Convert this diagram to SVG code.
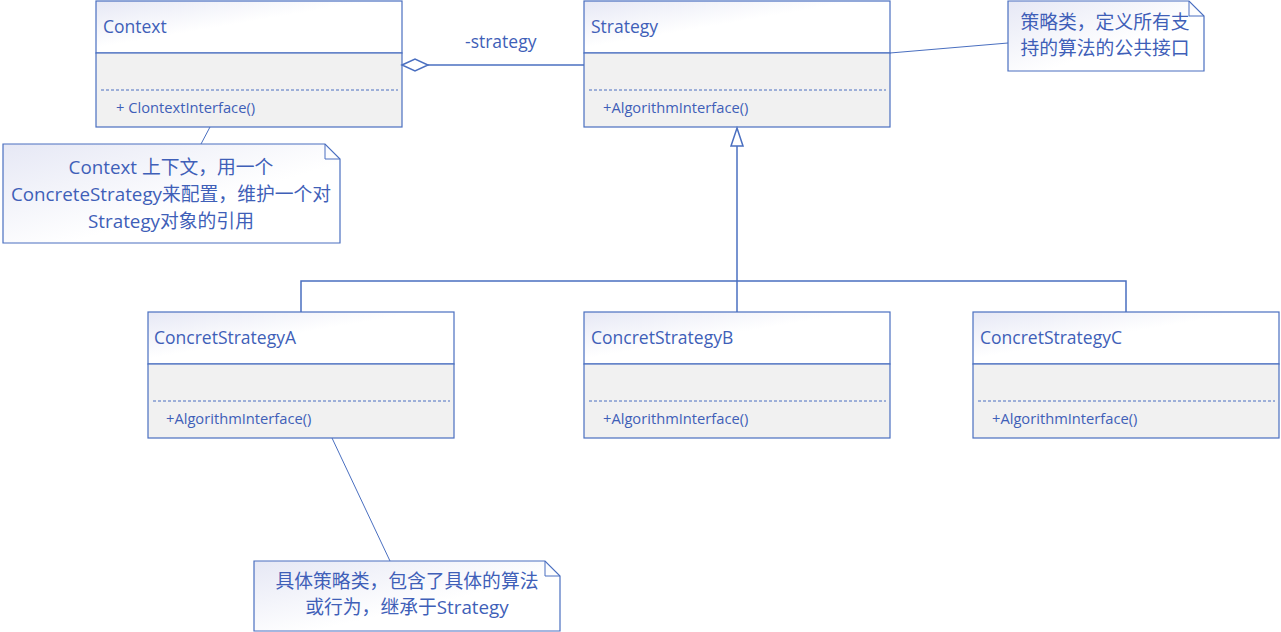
<svg xmlns="http://www.w3.org/2000/svg" width="1281" height="632" viewBox="0 0 1281 632">
<defs>
<linearGradient id="hg" x1="0" y1="0" x2="1" y2="1">
<stop offset="0" stop-color="#e6e8f5"/>
<stop offset="0.45" stop-color="#ffffff"/>
<stop offset="1" stop-color="#ffffff"/>
</linearGradient>
<linearGradient id="ng" x1="0" y1="0" x2="1" y2="1">
<stop offset="0" stop-color="#e6e8f5"/>
<stop offset="0.6" stop-color="#ffffff"/>
<stop offset="1" stop-color="#ffffff"/>
</linearGradient>
</defs>
<style>
.hdr{fill:url(#hg);stroke:#4a6fc0;stroke-width:1.2}
.bdy{fill:#f1f1f1;stroke:#4a6fc0;stroke-width:1.2}
.dash{stroke:#4a6fc0;stroke-width:1;stroke-dasharray:3,2;fill:none}
.ttl{font-family:"Open Sans","Noto Sans","Noto Sans CJK SC",sans-serif;font-size:17.5px;fill:#3f5fb8}
.mth{font-family:"Open Sans","Noto Sans","Noto Sans CJK SC",sans-serif;font-size:14.7px;fill:#3f5fb8}
.note{fill:url(#ng);stroke:#4a6fc0;stroke-width:1.2}
.ntx{font-family:"Open Sans","Noto Sans CJK SC",sans-serif;font-size:18.8px;fill:#3f5fb8;text-anchor:middle}
.ln{stroke:#4a6fc0;stroke-width:1.5;fill:none}
.thin{stroke:#4a6fc0;stroke-width:1;fill:none}
</style>

<g id="Context">
<rect class="hdr" x="96" y="1" width="306" height="52"/>
<rect class="bdy" x="96" y="53" width="306" height="74"/>
<line class="dash" x1="101" y1="90" x2="398" y2="90"/>
<text class="ttl" x="103" y="33">Context</text>
<text class="mth" x="116" y="113">+ ClontextInterface()</text>
</g>

<g id="Strategy">
<rect class="hdr" x="584" y="1" width="306" height="52"/>
<rect class="bdy" x="584" y="53" width="306" height="74"/>
<line class="dash" x1="589" y1="90" x2="886" y2="90"/>
<text class="ttl" x="591" y="33">Strategy</text>
<text class="mth" x="603" y="113">+AlgorithmInterface()</text>
</g>

<g id="ConcretStrategyA">
<rect class="hdr" x="148" y="312" width="306" height="52"/>
<rect class="bdy" x="148" y="364" width="306" height="74"/>
<line class="dash" x1="153" y1="401" x2="450" y2="401"/>
<text class="ttl" x="154" y="344">ConcretStrategyA</text>
<text class="mth" x="166" y="424">+AlgorithmInterface()</text>
</g>

<g id="ConcretStrategyB">
<rect class="hdr" x="584" y="312" width="306" height="52"/>
<rect class="bdy" x="584" y="364" width="306" height="74"/>
<line class="dash" x1="589" y1="401" x2="886" y2="401"/>
<text class="ttl" x="591" y="344">ConcretStrategyB</text>
<text class="mth" x="603" y="424">+AlgorithmInterface()</text>
</g>

<g id="ConcretStrategyC">
<rect class="hdr" x="973" y="312" width="306" height="52"/>
<rect class="bdy" x="973" y="364" width="306" height="74"/>
<line class="dash" x1="978" y1="401" x2="1275" y2="401"/>
<text class="ttl" x="980" y="344">ConcretStrategyC</text>
<text class="mth" x="992" y="424">+AlgorithmInterface()</text>
</g>

<g id="NoteStrategy">
<path class="note" d="M1008,1 H1189 L1204,16 V71 H1008 Z"/>
<path class="thin" d="M1189,1 V16 H1204"/>
<text class="ntx" x="1105" y="29">策略类，定义所有支</text>
<text class="ntx" x="1105" y="55">持的算法的公共接口</text>
</g>

<g id="NoteContext">
<path class="note" d="M3,144 H325 L340,159 V243 H3 Z"/>
<path class="thin" d="M325,144 V159 H340"/>
<text class="ntx" x="171" y="174">Context 上下文，用一个</text>
<text class="ntx" x="171" y="201">ConcreteStrategy来配置，维护一个对</text>
<text class="ntx" x="171" y="228">Strategy对象的引用</text>
</g>

<g id="NoteConcrete">
<path class="note" d="M254,561 H545 L560,576 V631 H254 Z"/>
<path class="thin" d="M545,561 V576 H560"/>
<text class="ntx" x="407" y="588">具体策略类，包含了具体的算法</text>
<text class="ntx" x="407" y="614">或行为，继承于Strategy</text>
</g>

<g id="connectors">
<line class="ln" x1="428" y1="65" x2="584" y2="65"/>
<path d="M402,65 L415,59 L428,65 L415,71 Z" fill="#ffffff" stroke="#4a6fc0" stroke-width="1.5"/>
<text class="ttl" x="465" y="48">-strategy</text>
<path d="M737,128 L743,146 L731,146 Z" fill="#ffffff" stroke="#4a6fc0" stroke-width="1.5"/>
<line class="ln" x1="737" y1="146" x2="737" y2="312"/>
<polyline class="ln" points="301,312 301,281 1126,281 1126,312"/>
<line class="thin" x1="890" y1="53" x2="1008" y2="43"/>
<line class="thin" x1="210" y1="127" x2="201" y2="144"/>
<line class="thin" x1="332" y1="438" x2="390" y2="561"/>
</g>
</svg>
